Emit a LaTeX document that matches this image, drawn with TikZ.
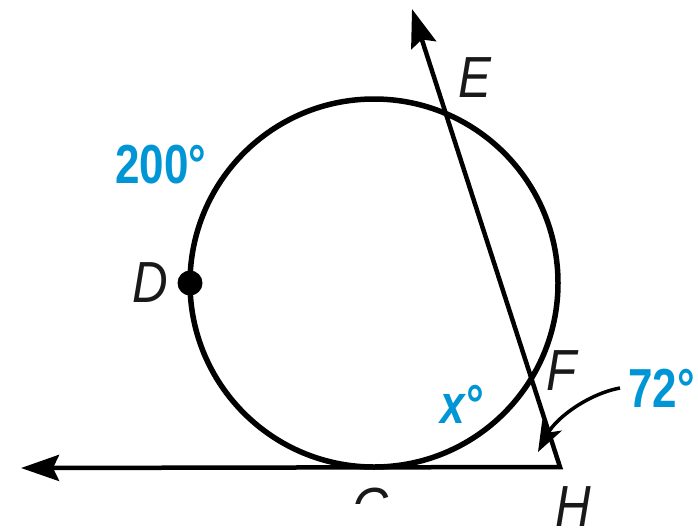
\documentclass[tikz,border=0pt]{standalone}
\usepackage{fontspec}
\setmainfont{Liberation Sans}
\newfontfamily\labfont{Liberation Sans}[FakeStretch=0.85]
\newfontfamily\numfont{Liberation Sans}[FakeStretch=0.8]
\usetikzlibrary{arrows.meta}
\definecolor{angblue}{RGB}{0,150,214}
\tikzset{
  ptlabel/.style={inner sep=0pt, anchor=base, font=\labfont\itshape\fontsize{58}{58}\selectfont, text=black!90},
  anglabel/.style={inner sep=0pt, anchor=base west, font=\numfont\bfseries\fontsize{55}{55}\selectfont, text=angblue},
  mainline/.style={line width=4.5pt, line join=miter, {Stealth[length=38pt,width=26pt,inset=6pt]}-{Stealth[length=38pt,width=26pt,inset=6pt]}},
  ptr/.style={line width=3.5pt, -{Stealth[length=30pt,width=22pt,inset=8pt]}}
}
\begin{document}
\begin{tikzpicture}[x=1pt,y=-1pt]
\useasboundingbox (0,0) rectangle (698,528);
% circle
\node[circle, draw, line width=5.5pt, minimum size=368pt, inner sep=0pt] (O) at (374,283) {};
% point D
\fill (190,283) circle[radius=12.5pt];
\coordinate (Dpt) at (190,283);
% lines
\coordinate (L) at (21,468);
\coordinate (H) at (560,467);
\coordinate (T) at (412,9);
\draw[mainline] (L) -- (H) -- (T);
% labels
\node[ptlabel] (E) at (475,97) {E};
\node[ptlabel] (F) at (562,390) {F};
\node[ptlabel] (Hl) at (573,526) {H};
\node[ptlabel] (D) at (150,302) {D};
\begin{scope}
\clip (0,0) rectangle (698,503);
\node[ptlabel] (G) at (372,528) {G};
\end{scope}
% angle labels
\node[anglabel] (a200) at (115,183) {200°};
\node[anglabel] (ax) at (440,423) {\itshape x°};
\node[anglabel] (a72) at (628,407) {72°};
% pointer
\coordinate (p1) at (620,388);
\coordinate (p2) at (538,452);
\draw[ptr] (p1) .. controls (588,394) and (556,418) .. (p2);
\end{tikzpicture}
\end{document}
